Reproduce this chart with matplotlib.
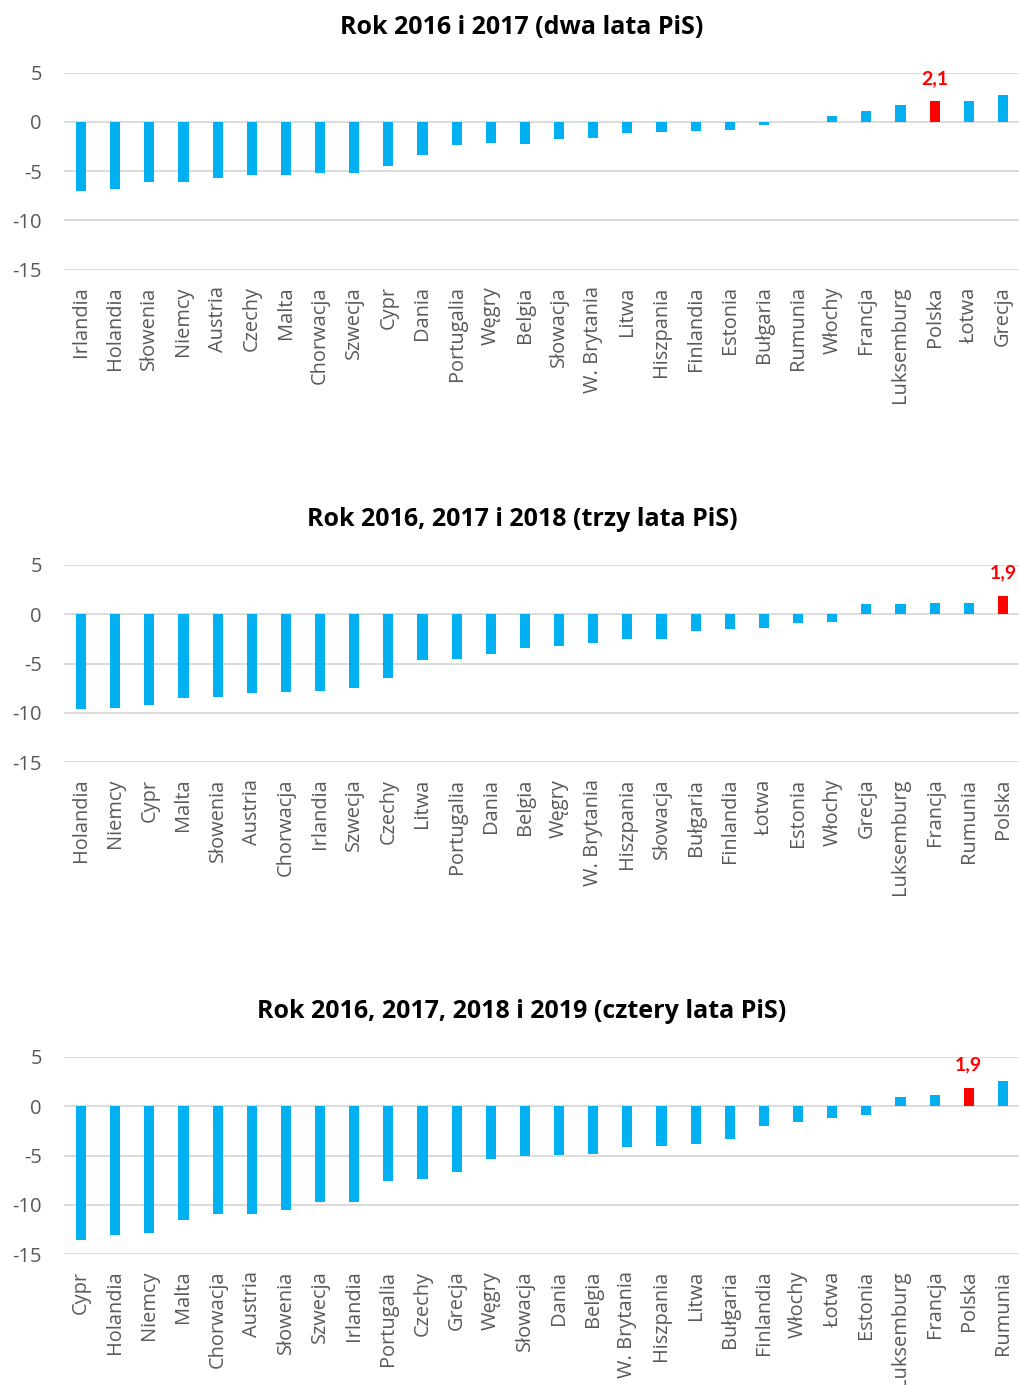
import matplotlib

matplotlib.use('Agg')
import matplotlib.pyplot as plt
import numpy as np

# --- data ---

countries_2y = ['Irlandia', 'Holandia', 'Słowenia', 'Niemcy', 'Austria', 'Czechy', 'Malta',
                'Chorwacja', 'Szwecja', 'Cypr', 'Dania', 'Portugalia', 'Węgry', 'Belgia',
                'Słowacja', 'W. Brytania', 'Litwa', 'Hiszpania', 'Finlandia', 'Estonia',
                'Bułgaria', 'Rumunia', 'Włochy', 'Francja', 'Luksemburg', 'Polska', 'Łotwa',
                'Grecja']
values_2y = [-7.0, -6.8, -6.1, -6.1, -5.7, -5.4, -5.4, -5.2, -5.2, -4.5, -3.4, -2.3, -2.1, -2.2,
             -1.7, -1.6, -1.1, -1.0, -0.9, -0.8, -0.3, 0.0, 0.6, 1.1, 1.7, 2.1, 2.1, 2.7]

countries_3y = ['Holandia', 'Niemcy', 'Cypr', 'Malta', 'Słowenia', 'Austria', 'Chorwacja',
                'Irlandia', 'Szwecja', 'Czechy', 'Litwa', 'Portugalia', 'Dania', 'Belgia',
                'Węgry', 'W. Brytania', 'Hiszpania', 'Słowacja', 'Bułgaria', 'Finlandia',
                'Łotwa', 'Estonia', 'Włochy', 'Grecja', 'Luksemburg', 'Francja', 'Rumunia',
                'Polska']
values_3y = [-9.6, -9.5, -9.2, -8.5, -8.4, -8.0, -7.9, -7.8, -7.5, -6.5, -4.6, -4.5, -4.0, -3.4,
             -3.2, -2.9, -2.5, -2.5, -1.7, -1.5, -1.4, -0.9, -0.8, 1.0, 1.0, 1.1, 1.1, 1.9]

countries_4y = ['Cypr', 'Holandia', 'Niemcy', 'Malta', 'Chorwacja', 'Austria', 'Słowenia',
                'Szwecja', 'Irlandia', 'Portugalia', 'Czechy', 'Grecja', 'Węgry', 'Słowacja',
                'Dania', 'Belgia', 'W. Brytania', 'Hiszpania', 'Litwa', 'Bułgaria', 'Finlandia',
                'Włochy', 'Łotwa', 'Estonia', 'Luksemburg', 'Francja', 'Polska', 'Rumunia']
values_4y = [-13.6, -13.1, -12.9, -11.5, -10.9, -10.9, -10.5, -9.7, -9.7, -7.6, -7.4, -6.7, -5.4,
             -5.1, -4.9, -4.8, -4.1, -4.0, -3.8, -3.3, -2.0, -1.6, -1.2, -0.9, 0.9, 1.1, 1.9, 2.6]

titles = ['Rok 2016 i 2017 (dwa lata PiS)',
          'Rok 2016, 2017 i 2018 (trzy lata PiS)',
          'Rok 2016, 2017, 2018 i 2019 (cztery lata PiS)']
highlight = 'Polska'
y_ticks = [5, 0, -5, -10, -15]

BLUE = '#00B0F0'
RED = '#FF0000'
GRID = '#D9D9D9'
TEXT = '#595959'

W, H = 1020, 1385
plt.rcParams['font.family'] = ['Open Sans', 'DejaVu Sans']


def draw_panel(fig, top_px, title_px, countries, values, title):
    # axes box in pixels: y=5 at top_px, y=-15 at top_px + 197
    left, right = 64, 1020
    height = 197
    ax = fig.add_axes([left / W, 1 - (top_px + height) / H, (right - left) / W, height / H])
    x = np.arange(len(countries))
    colors = [RED if c == highlight else BLUE for c in countries]
    ax.bar(x, values, width=0.3, color=colors, zorder=3)

    ax.set_ylim(-15, 5)
    ax.set_xlim(-0.5, len(countries) - 0.5)
    ax.set_yticks(y_ticks)
    ax.set_yticklabels([str(t) for t in y_ticks])
    ax.yaxis.grid(True, color=GRID, linewidth=1.3, zorder=0)
    ax.set_xticks(x)
    ax.set_xticklabels(countries, rotation=90, va='top', ha='center')
    ax.tick_params(axis='x', length=0, pad=12, labelsize=14.4, labelcolor=TEXT)
    ax.tick_params(axis='y', length=0, pad=16, labelsize=14.5, labelcolor=TEXT)
    for s in ax.spines.values():
        s.set_visible(False)

    i = countries.index(highlight)
    v = values[i]
    ax.annotate(f'{v:.1f}'.replace('.', ','), (x[i], v), xytext=(0, 10),
                textcoords='offset points', ha='center', va='bottom',
                color=RED, fontsize=14, fontweight='bold', family=['Lato', 'DejaVu Sans'])

    fig.text(522 / W, 1 - title_px / H, title, ha='center', va='center',
             fontsize=18, fontweight='bold', color='black')
    return ax


fig = plt.figure(figsize=(W / 100, H / 100), dpi=100)
draw_panel(fig, 72.7, 28, countries_2y, values_2y, titles[0])
draw_panel(fig, 565, 520, countries_3y, values_3y, titles[1])
draw_panel(fig, 1057, 1012, countries_4y, values_4y, titles[2])
fig.savefig('out.png', dpi=100)
